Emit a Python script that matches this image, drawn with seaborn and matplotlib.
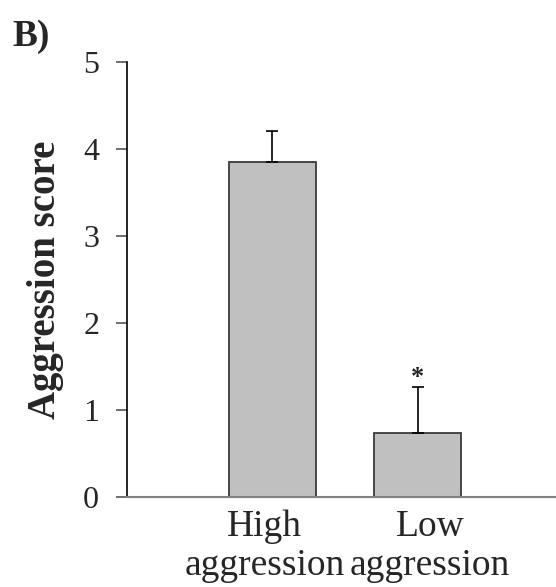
import pandas as pd
import seaborn as sns
from matplotlib import pyplot as plt
from matplotlib.transforms import ScaledTranslation

### Data ###
groups = ['High\naggression', 'Low\naggression']
scores = [3.85, 0.73]
sem = [0.36, 0.54]
stars = ['', '*']

df = pd.DataFrame({'group': groups, 'score': scores})

sns.set_theme(style='white')
plt.rcParams['font.family'] = ['Liberation Serif', 'DejaVu Serif']

fig = plt.figure(figsize=(5.56, 5.87), dpi=100)
ax = fig.add_axes([0.2284, 0.1533, 0.7716, 0.7411])

sns.barplot(x='group', y='score', data=df, color='#c0c0c0', saturation=1,
            errorbar=None, width=0.6, edgecolor='#3a3a3a', linewidth=1.3, ax=ax)

# upper error bars only
ax.errorbar(range(len(scores)), scores, yerr=[[0] * len(sem), sem], fmt='none',
            ecolor='black', elinewidth=1.2, capsize=4.5, capthick=1.2)

for i, s in enumerate(stars):
    if s:
        ax.text(i, scores[i] + sem[i] + 0.1, s, ha='center', va='center',
                fontsize=19, fontweight='bold')

ax.set_xlim(-1.0, 1.95)
ax.set_ylim(0, 5)
ax.set_yticks([0, 1, 2, 3, 4, 5])
ax.tick_params(axis='y', left=True, length=8, width=1.2, color='#555555',
               labelsize=23, pad=12)
ax.tick_params(axis='x', bottom=False, labelsize=27, pad=3)
xlabs = ax.get_xticklabels()
for lbl in xlabs:
    lbl.set_linespacing(1.18)
# labels are a little off-centre from their bars in the original
xlabs[0].set_transform(xlabs[0].get_transform() + ScaledTranslation(-8 / 100, 0, fig.dpi_scale_trans))
xlabs[1].set_transform(xlabs[1].get_transform() + ScaledTranslation(12 / 100, 0, fig.dpi_scale_trans))

ax.spines['top'].set_visible(False)
ax.spines['right'].set_visible(False)
ax.spines['left'].set_color('black')
ax.spines['left'].set_linewidth(1.2)
ax.spines['bottom'].set_color('#808080')
ax.spines['bottom'].set_linewidth(1.5)

ax.set_xlabel('')
ax.set_ylabel('Aggression score', fontsize=28, fontweight='bold', labelpad=14)

fig.text(0.022, 0.968, 'B)', fontsize=27, fontweight='bold', va='top', ha='left')

plt.savefig('out.png', dpi=100)
